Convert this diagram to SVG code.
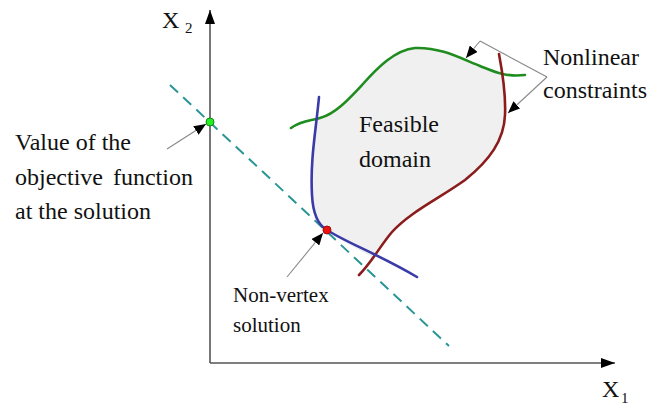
<svg xmlns="http://www.w3.org/2000/svg" width="651" height="405" viewBox="0 0 651 405">
<defs>
<marker id="ah" viewBox="0 0 12 10" refX="12" refY="5" markerWidth="12" markerHeight="10" markerUnits="userSpaceOnUse" orient="auto">
<path d="M0,0 L12,5 L0,10 Z" fill="#000"/>
</marker>
<marker id="axh" viewBox="0 0 14 10" refX="14" refY="5" markerWidth="14" markerHeight="10" markerUnits="userSpaceOnUse" orient="auto">
<path d="M0,0 L14,5 L0,10 Z" fill="#000"/>
</marker>
</defs>
<style>
text{fill:#111;font-family:'Liberation Serif','Times New Roman','DejaVu Serif',serif;}
.axis{stroke:#555;stroke-width:1.6;fill:none;}
.ptr{stroke:#888;stroke-width:1.1;fill:none;}
.crv{fill:none;stroke-width:2.6;stroke-linecap:round;}
</style>
<rect width="651" height="405" fill="#fff"/>
<g id="domain">
<path d="M317,119 C335,114 348,100 362,85 C378,67 395,50 415,48 C440,47 460,58 480,66 C490,70 497,74 501,76 C505,95 506,105 505,115 C504,140 490,160 465,180 C440,198 410,212 392,232 C385,240 378,250 372,257 C350,246 338,238 327,230 C318,225 313,215 312,195 C311,165 314,140 317,119 Z" fill="#f0f0f0"/>
<text x="359" y="132" font-size="24">Feasible</text>
<text x="359" y="167" font-size="24">domain</text>
</g>
<g id="axes">
<line class="axis" x1="210" y1="363" x2="210" y2="10" marker-end="url(#axh)"/>
<line class="axis" x1="210" y1="363" x2="615" y2="363" marker-end="url(#axh)"/>
<text x="162" y="28" font-size="24">X</text>
<text x="185" y="33" font-size="15">2</text>
<text x="602" y="397" font-size="24">X</text>
<text x="621" y="403" font-size="15">1</text>
</g>
<g id="objective">
<line x1="170" y1="85" x2="449" y2="346" stroke="#2a9595" stroke-width="2" stroke-dasharray="11,7"/>
</g>
<g id="constraint-green">
<path class="crv" stroke="#1e8c1e" d="M291,128 C302,120 310,121 320,118 C335,114 348,100 362,85 C378,67 395,50 415,48 C440,47 460,58 480,66 C495,72 505,77 525,75"/>
</g>
<g id="constraint-red">
<path class="crv" stroke="#8b1c1c" d="M499,54 C502,70 506,95 505,115 C504,140 490,160 465,180 C440,198 410,212 392,232 C380,246 372,262 359,275"/>
</g>
<g id="constraint-blue">
<path class="crv" stroke="#3a3aa8" d="M319,97 C316,130 310,160 312,195 C313,215 318,225 327,230 C345,242 380,255 417,277"/>
</g>
<g id="points">
<circle cx="210" cy="122" r="4" fill="#22ee22" stroke="#118811" stroke-width="1"/>
<circle cx="327" cy="230" r="4" fill="#ee1111" stroke="#991111" stroke-width="1"/>
</g>
<g id="connectors">
<line class="ptr" x1="167" y1="149" x2="206" y2="124" marker-end="url(#ah)"/>
<line class="ptr" x1="287" y1="277" x2="323" y2="233" marker-end="url(#ah)"/>
<polyline class="ptr" points="480,41 547,77"/>
<line class="ptr" x1="480" y1="41" x2="466" y2="58" marker-end="url(#ah)"/>
<line class="ptr" x1="547" y1="77" x2="508" y2="113" marker-end="url(#ah)"/>
</g>
<g id="labels">
<text x="15" y="150" font-size="24">Value of the</text>
<text x="15" y="185" font-size="24" word-spacing="4">objective function</text>
<text x="15" y="219" font-size="24">at the solution</text>
<text x="233" y="302" font-size="21">Non-vertex</text>
<text x="233" y="332" font-size="21">solution</text>
<text x="543" y="65" font-size="24">Nonlinear</text>
<text x="543" y="98" font-size="24">constraints</text>
</g>
</svg>
